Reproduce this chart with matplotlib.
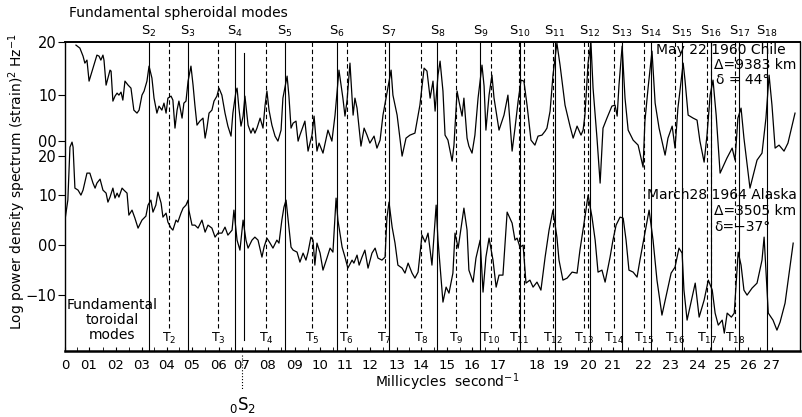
import matplotlib.pyplot as plt

plt.rcParams['font.family'] = 'DejaVu Sans'

# frequency in units of 0.1 mc/s, log power
chile_f = [0.42, 0.57, 0.69, 0.76, 0.84, 0.92, 1.07, 1.22, 1.30, 1.37, 1.45, 1.49, 1.57, 1.64, 1.72,
           1.76, 1.83, 1.91, 1.99, 2.06, 2.14, 2.21, 2.29, 2.41, 2.52, 2.63, 2.75, 2.83, 2.94, 3.02,
           3.13, 3.21, 3.32, 3.40, 3.51, 3.59, 3.70, 3.78, 3.86, 3.93, 4.05, 4.12, 4.20, 4.28, 4.35,
           4.47, 4.54, 4.62, 4.70, 4.81, 4.89, 4.96, 5.04, 5.15, 5.27, 5.35, 5.42, 5.50, 5.61, 5.69,
           5.80, 5.88, 5.99, 6.11, 6.22, 6.34, 6.41, 6.53, 6.57, 6.64, 6.72, 6.80, 6.87, 6.95, 6.99,
           7.10, 7.18, 7.25, 7.33, 7.45, 7.56, 7.64, 7.71, 7.79, 7.90, 8.02, 8.13, 8.25, 8.32, 8.48,
           8.55, 8.63, 8.71, 8.82, 8.90,
           8.97, 9.16, 9.28, 9.43, 9.51, 9.62, 9.70, 9.85, 10.04, 10.19, 10.31, 10.46, 10.61, 10.69, 10.77,
           10.88, 11.00, 11.07, 11.15, 11.30, 11.42, 11.53, 11.64, 11.80, 11.91, 12.03, 12.14, 12.29, 12.45, 12.52,
           12.68, 12.87, 13.02, 13.17, 13.36, 13.55, 13.71, 13.82, 13.94, 14.05, 14.13, 14.24, 14.32, 14.43, 14.51,
           14.62, 14.78, 14.85, 14.97, 15.04, 15.16, 15.23, 15.35, 15.42, 15.54, 15.65, 15.77, 15.92, 16.00, 16.07,
           16.19, 16.30, 16.38, 16.57, 16.76, 16.91, 17.07, 17.18, 17.30, 17.41, 17.52, 17.64, 17.79, 17.94, 18.06,
           18.21, 18.33, 18.40, 18.52, 18.63, 18.78, 18.90, 19.09, 19.28, 19.40, 19.55, 19.70, 19.78, 19.85, 19.97,
           20.08, 20.16, 20.31, 20.43, 20.54, 20.69, 20.88, 21.00, 21.08, 21.15, 21.27, 21.38, 21.50, 21.69, 21.88,
           22.07, 22.14, 22.26, 22.41, 22.53, 22.68, 22.91, 23.02, 23.18, 23.29, 23.40, 23.60, 23.67, 23.79, 23.98,
           24.13, 24.24, 24.40, 24.51, 24.63, 24.74, 24.86, 25.01, 25.27, 25.47, 25.58, 25.69, 25.81, 25.92, 26.15,
           26.42, 26.61, 26.76, 26.88, 26.99, 27.11, 27.26, 27.45, 27.60, 27.87]
chile_p = [19.2, 18.6, 17.0, 15.6, 16.2, 12.0, 14.6, 17.2, 17.0, 16.2, 17.2, 16.2, 11.2, 12.6, 14.2,
           14.0, 8.0, 9.0, 9.6, 9.2, 9.8, 8.2, 12.0, 11.2, 10.6, 6.2, 5.6, 6.2, 9.2, 10.0,
           12.0, 15.0, 12.6, 8.6, 5.6, 7.0, 6.2, 7.6, 5.6, 8.6, 9.0, 8.2, 2.6, 6.2, 8.0,
           4.6, 7.6, 8.0, 12.0, 15.0, 11.2, 7.2, 3.2, 4.0, 4.6, 0.6, 2.6, 5.6, 6.2, 8.0,
           9.0, 10.6, 9.2, 5.6, 3.0, 1.0, 5.6, 10.0, 10.6, 6.6, 3.0, 5.0, 9.0, 5.2, 3.2,
           1.6, 2.6, 1.6, 2.6, 4.6, 2.6, 7.2, 10.0, 6.2, 3.2, 1.0, 0.0, 2.2, 8.6, 13.0,
           9.0, 2.6, 3.6, 4.0, 0.0,
           1.2, 4.0, -2.0, 1.2, 5.0, -2.0, -0.4, -2.4, 2.2, 0.0, 5.2, 14.2, 8.6, 5.0, 8.2,
           15.6, 5.2, 8.6, 6.6, -1.0, 2.6, 1.2, -0.4, 1.0, -1.4, 0.2, 5.2, 9.6, 14.2, 9.2,
           5.2, -3.0, 0.6, 1.2, 1.6, 7.2, 14.6, 14.0, 8.6, 12.0, 6.0, 13.2, 16.0, 10.0, 1.2,
           0.2, -4.0, -0.8, 10.0, 8.0, 5.0, 8.6, 0.6, -1.0, -2.4, 1.2, 8.6, 15.2, 11.0, 2.2,
           9.2, 13.2, 8.6, 2.2, 5.2, 9.2, -2.0, 2.6, 8.0, 12.2, 12.0, 7.2, 0.2, -0.8, 1.0,
           1.2, 2.0, 2.6, 6.0, 13.2, 19.6, 15.2, 7.2, 3.0, 0.6, 3.0, 1.2, 2.2, 5.2, 15.6,
           19.6, 10.6, 0.6, -8.4, 2.6, 4.6, 7.0, 7.2, 5.0, 11.2, 19.0, 8.6, 2.2, 0.2, -0.8,
           -5.2, 4.0, 10.6, 18.0, 7.6, 2.6, -2.8, 0.6, 3.0, -1.4, 6.6, 15.6, 12.2, 5.2, 4.6,
           4.2, 0.0, -4.2, 1.2, 9.2, 12.2, 5.2, -6.4, -3.4, -1.4, -3.8, 4.6, 6.6, 0.6, -9.4,
           -3.8, -2.4, 4.6, 13.2, 7.2, -1.4, -0.8, -2.0, -0.4, 5.6]

alaska_f = [0.00, 0.11, 0.19, 0.27, 0.31, 0.38, 0.50, 0.61, 0.69, 0.84, 0.95, 1.07, 1.15, 1.22, 1.34,
            1.45, 1.57, 1.64, 1.72, 1.83, 1.91, 1.99, 2.06, 2.18, 2.25, 2.37, 2.44, 2.56, 2.67, 2.79,
            2.94, 3.09, 3.17, 3.28, 3.36, 3.47, 3.55, 3.67, 3.74, 3.86, 3.93, 4.05, 4.12, 4.24, 4.31,
            4.43, 4.51, 4.62, 4.70, 4.73, 4.85, 4.96, 5.08, 5.23, 5.35, 5.46, 5.61, 5.73, 5.84, 5.99,
            6.11, 6.22, 6.38, 6.45, 6.57, 6.68, 6.80, 6.91, 6.99, 7.14, 7.25, 7.37, 7.52, 7.60, 7.71,
            7.83, 7.94, 8.09, 8.17, 8.28, 8.36, 8.44, 8.51, 8.63, 8.71, 8.86, 8.97, 9.09, 9.20, 9.28,
            9.39, 9.47, 9.54, 9.62, 9.74, 9.85, 10.00, 10.12, 10.23, 10.35, 10.42, 10.58, 10.69, 10.80, 10.96,
            11.03, 11.15, 11.23, 11.34, 11.45, 11.57, 11.72, 11.84, 11.95, 12.10, 12.22, 12.29, 12.37, 12.49, 12.60,
            12.71, 12.87, 12.98, 13.10, 13.25, 13.36, 13.48, 13.63, 13.75, 13.86, 14.01, 14.17, 14.24, 14.43, 14.55,
            14.66, 14.81, 14.89, 15.01, 15.12, 15.23, 15.35, 15.42, 15.58, 15.69, 15.85, 15.96, 16.07, 16.19, 16.34,
            16.46, 16.57, 16.72, 16.88, 17.07, 17.18, 17.26, 17.37, 17.49, 17.60, 17.75, 17.87, 18.02, 18.17, 18.33,
            18.48, 18.63, 18.78, 18.86, 19.01, 19.17, 19.36, 19.55, 19.66, 19.85, 19.97, 20.12, 20.24, 20.35, 20.50,
            20.62, 20.81, 20.92, 21.04, 21.19, 21.31, 21.42, 21.53, 21.69, 21.84, 21.95, 22.14, 22.30, 22.45, 22.60,
            22.79, 22.94, 23.14, 23.29, 23.44, 23.56, 23.63, 23.75, 23.86, 24.06, 24.21, 24.40, 24.56, 24.71, 24.82,
            24.94, 25.09, 25.17, 25.28, 25.44, 25.55, 25.70, 25.81, 25.92, 26.04, 26.23, 26.42, 26.61, 26.69, 26.85,
            27.03, 27.18, 27.30, 27.49, 27.80]
alaska_p = [5.0, 9.0, 19.6, 20.6, 19.6, 11.4, 11.0, 10.0, 11.0, 14.4, 14.4, 12.4, 11.4, 12.4, 13.2,
            11.0, 10.4, 8.6, 9.6, 11.4, 9.4, 10.4, 9.6, 11.4, 11.0, 10.4, 6.0, 7.0, 5.4, 3.4,
            5.0, 5.8, 8.0, 9.0, 6.6, 8.0, 10.6, 8.4, 5.6, 6.4, 4.6, 3.4, 3.0, 5.0, 4.6,
            6.4, 7.4, 8.0, 9.0, 7.0, 4.0, 4.0, 3.4, 5.0, 2.6, 4.0, 3.4, 1.6, 2.4, 2.4,
            3.6, 2.0, 3.0, 7.0, 1.0, -1.0, 5.0, 1.0, -0.6, 1.0, 1.6, 1.0, -2.4, -0.4, 1.4,
            0.4, -0.6, 1.0, 0.4, 5.0, 7.6, 9.0, 5.6, -0.4, -1.0, -1.4, -3.4, -1.6, -3.0, -1.4,
            1.6, 1.0, -4.0, 0.4, -1.6, -5.0, -2.6, -0.6, -1.4, 9.4, 5.0, -0.4, -2.4, -4.6, -3.0,
            -3.6, -2.0, -4.0, -2.4, -1.0, -4.6, -1.6, -0.6, -2.6, -3.0, -2.4, 5.4, 8.6, 3.6, 0.4,
            -4.0, -4.6, -5.6, -3.6, -5.6, -6.6, -5.4, 2.0, 0.6, 2.4, -4.0, 8.0, 1.0, -11.4, -8.4,
            -9.6, -5.6, 2.4, -0.6, 3.4, 7.4, 3.0, -5.0, -7.4, -2.6, 1.0, -9.4, -2.4, 1.4, -3.0,
            -8.4, -6.0, -6.0, 6.6, 4.4, 1.0, 1.4, -0.4, 0.0, -7.6, -7.0, -8.4, -7.4, -9.0, -2.4,
            3.0, 7.0, 1.6, -3.0, -7.0, -6.6, -5.4, -5.6, -1.0, 5.6, 10.0, 5.6, 1.0, -5.4, -5.0,
            -7.4, -2.4, 1.0, 4.0, 5.6, 5.4, 1.0, -5.0, -5.4, -6.4, -3.0, 2.4, 7.0, 1.0, -7.0,
            -14.0, -10.4, -5.6, -4.4, -0.6, -1.6, -9.0, -15.0, -12.4, -7.6, -14.4, -11.0, -7.0, -9.0, -13.6,
            -16.0, -15.0, -17.6, -13.6, -14.4, -13.6, -1.4, -4.0, -9.0, -10.0, -8.6, -7.6, -3.0, 1.6, -13.6,
            -15.0, -17.0, -15.4, -11.6, 0.4]

upper_shift = 20.8   # Chile trace drawn above the Alaska trace

s_modes = list(range(2, 19))
s_freq = [3.19, 4.68, 6.49, 8.40, 10.38, 12.37, 14.22, 15.86, 17.37, 18.71, 20.03, 21.27, 22.37,
          23.56, 24.66, 25.75, 26.80]
extra_solid = 6.83

t_modes = list(range(2, 19))
t_freq = [3.99, 5.86, 7.69, 9.43, 10.75, 12.20, 13.59, 14.93, 16.25, 17.35, 18.63, 19.80, 20.96,
          22.11, 23.29, 24.51, 25.58]
t_extra = [17.54, 19.95, 24.66]

xtick_pos = [0, 0.92, 1.95, 2.94, 3.89, 4.85, 5.88, 6.76, 7.75, 8.78, 9.74, 10.69, 11.64, 12.68,
             13.59, 14.59, 15.54, 16.53, 18.02, 18.94, 19.97, 20.92, 22.07, 23.10, 24.13, 25.09,
             26.08, 26.99]
xtick_labels = ['0', '01', '02', '03', '04', '05', '06', '07', '08', '09', '10', '11', '12', '13',
                '14', '15', '16', '17', '18', '19', '20', '21', '22', '23', '24', '25', '26', '27']
ytick_pos = [40.6, 30.0, 20.8, 17.8, 10.0, 0.0, -10.0]
ytick_labels = ['20', '10', '00', '20', '10', '00', '\u221210']

fig = plt.figure(figsize=(8.02, 4.17), dpi=100, facecolor='white')
ax = fig.add_axes([0.081, 0.158, 0.9165, 0.741])

for x in s_freq:
    ax.axvline(x, color='black', lw=0.8, zorder=1)
ax.plot([extra_solid, extra_solid], [38.4, -19.0], color='black', lw=0.8, zorder=1)
for x in t_freq + t_extra:
    ax.plot([x, x], [40.6, -16.6], color='black', lw=0.8, ls=(0, (4, 2.5)), zorder=1)

ax.plot(chile_f, [p + upper_shift for p in chile_p], color='black', lw=0.9, zorder=2)
ax.plot(alaska_f, alaska_p, color='black', lw=0.9, zorder=2)

ax.set_xlim(0, 28.06)
ax.set_ylim(-21.2, 40.6)
ax.set_xticks(xtick_pos, xtick_labels)
ax.set_xticks([(a + b) / 2 for a, b in zip(xtick_pos[:-1], xtick_pos[1:])], minor=True)
ax.tick_params(axis='x', which='both', direction='in', length=3, labelsize=9.5, pad=6)
ax.set_yticks(ytick_pos, ytick_labels)
ax.tick_params(axis='y', direction='out', length=5, labelsize=10.5, pad=1)
ax.spines['bottom'].set_linewidth(1.8)
ax.spines['top'].set_linewidth(1.4)
ax.spines['left'].set_linewidth(1.0)
ax.spines['right'].set_linewidth(1.0)

for n, x in zip(s_modes, s_freq):
    ax.text(x, 1.033, 'S$_{%d}$' % n, transform=ax.get_xaxis_transform(),
            ha='center', va='center', fontsize=9.5)
for n, x in zip(t_modes, t_freq):
    ax.text(x, -18.6, 'T$_{%d}$' % n, ha='center', va='center', fontsize=9)

ax.text(22.57, 39.0, 'May 22 1960 Chile', fontsize=10, va='center')
ax.text(24.78, 36.0, '\u0394=9383 km', fontsize=10, va='center')
ax.text(24.86, 33.0, '\u03b4 = 44\u00b0', fontsize=10, va='center')
ax.text(22.22, 10.0, 'March28 1964 Alaska', fontsize=10, va='center')
ax.text(24.78, 6.8, '\u0394=3505 km', fontsize=10, va='center')
ax.text(24.78, 3.6, '\u03b4=\u221237\u00b0', fontsize=10, va='center')
ax.text(1.79, -15.0, 'Fundamental\ntoroidal\nmodes', fontsize=10, ha='center', va='center',
        linespacing=1.1)

ax.plot([6.76, 6.76], [-22.0, -29.0], color='black', lw=0.8, ls=':', clip_on=False)
ax.text(6.76, -32.0, '$_{0}$S$_{2}$', fontsize=12, ha='center', va='center', clip_on=False)

fig.text(0.223, 0.969, 'Fundamental spheroidal modes', fontsize=10, ha='center', va='center')
fig.text(0.557, 0.084, 'Millicycles  second$^{-1}$', fontsize=10, ha='center', va='center')
fig.text(0.021, 0.565, 'Log power density spectrum (strain)$^{2}$ Hz$^{-1}$', fontsize=10,
         rotation=90, ha='center', va='center')

fig.savefig('out.png', dpi=100)
